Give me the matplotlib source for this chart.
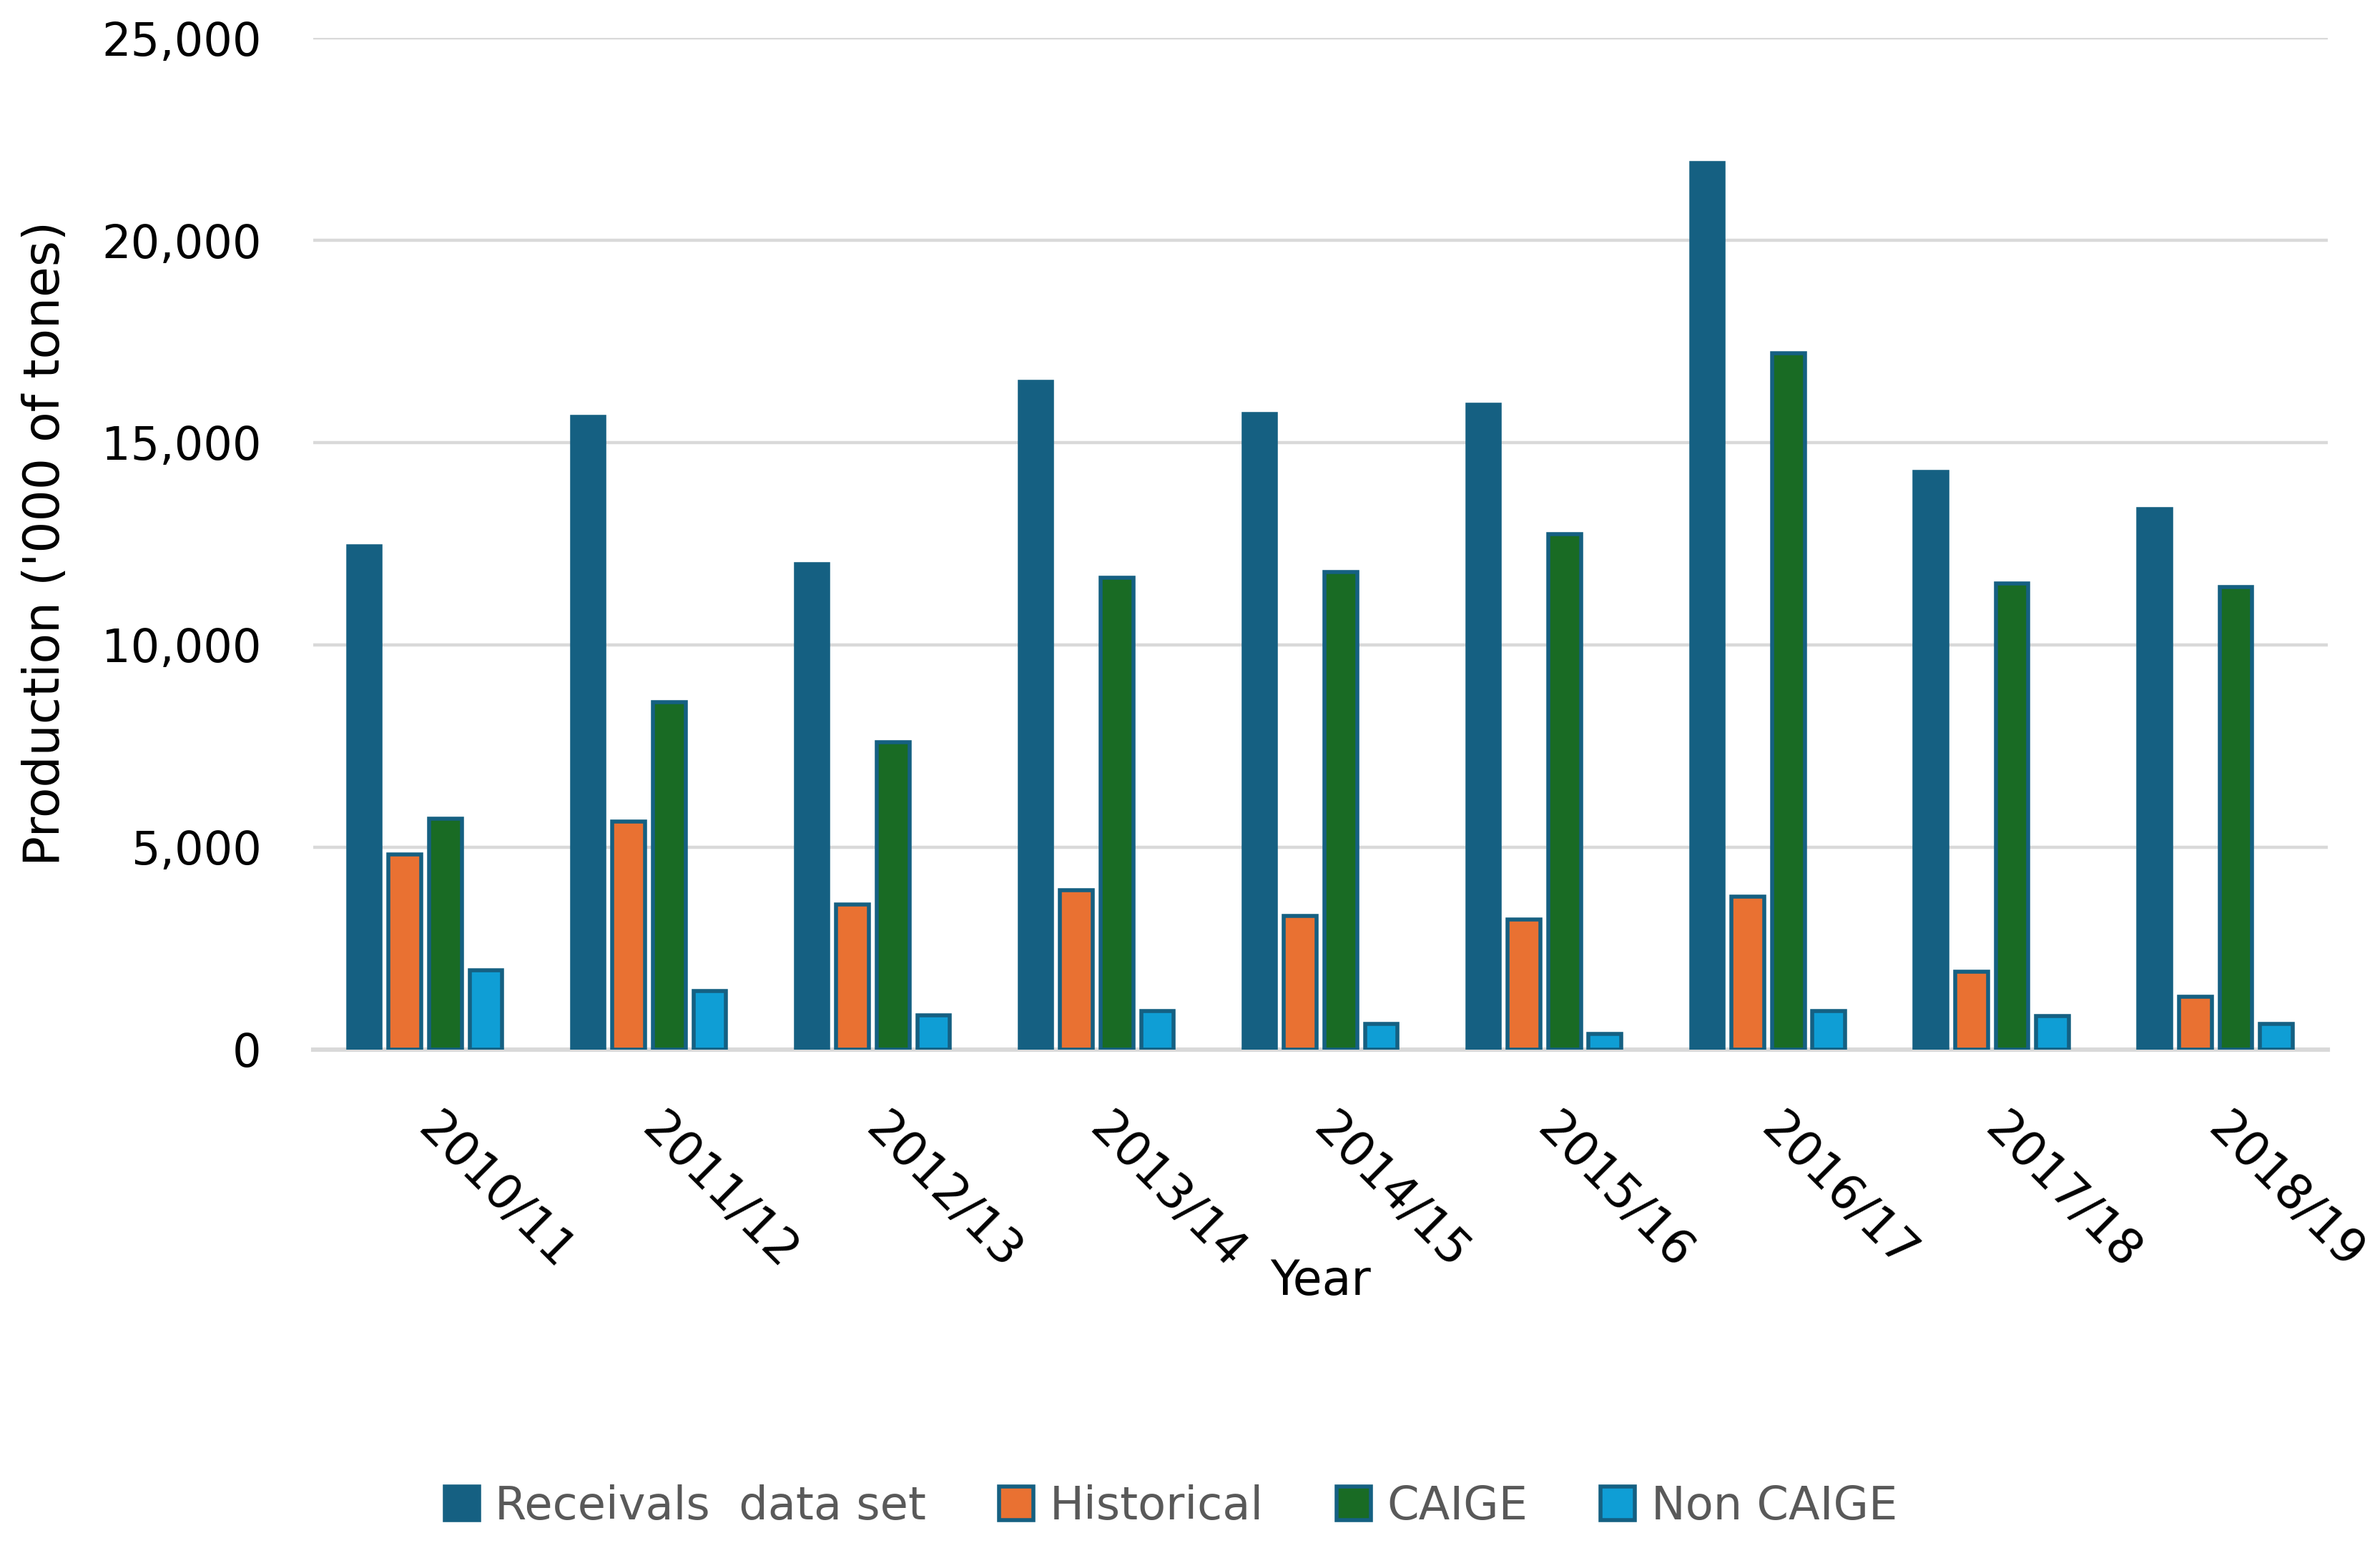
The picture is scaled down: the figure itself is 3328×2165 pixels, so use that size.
import numpy as np
import matplotlib
matplotlib.use("Agg")
import matplotlib.pyplot as plt

# values ('000 of tones)
years = ['2010/11', '2011/12', '2012/13', '2013/14', '2014/15',
         '2015/16', '2016/17', '2017/18', '2018/19']
receivals = [12430, 15640, 11990, 16500, 15710, 15930, 21910, 14270, 13360]
historical = [4830, 5640, 3580, 3935, 3295, 3210, 3785, 1925, 1300]
caige = [5710, 8580, 7600, 11655, 11805, 12735, 17210, 11520, 11435]
non_caige = [1960, 1455, 845, 945, 625, 390, 945, 830, 640]

series = [receivals, historical, caige, non_caige]
names = ['Receivals  data set', 'Historical', 'CAIGE', 'Non CAIGE']
colors = ['#156082', '#E97132', '#196B24', '#0F9ED5']
edge = '#156082'

plt.rcParams['font.family'] = ['DejaVu Sans']

fig = plt.figure(figsize=(16.64, 10.825), dpi=200)
ax = fig.add_axes([0.1316, 0.322, 0.8464, 0.6535])

x = np.arange(len(years))
step = 0.181
width = 0.146
for k, (vals, name, col) in enumerate(zip(series, names, colors)):
    ax.bar(x + (k - 1.5) * step, vals, width, color=col, edgecolor=edge,
           linewidth=2, label=name, zorder=3)

ax.set_xlim(-0.5, len(years) - 0.5)
ax.set_ylim(0, 25000)
ax.set_yticks(np.arange(0, 25001, 5000))
ax.yaxis.set_major_formatter(matplotlib.ticker.StrMethodFormatter('{x:,.0f}'))
ax.grid(axis='y', color='#d9d9d9', linewidth=1.6, zorder=0)
ax.set_axisbelow(True)

for s in ['top', 'right', 'left']:
    ax.spines[s].set_visible(False)
ax.spines['bottom'].set_color('#d9d9d9')
ax.spines['bottom'].set_linewidth(2.2)
ax.spines['bottom'].set_zorder(1)

ax.tick_params(axis='y', length=0, pad=26, labelsize=23)
ax.tick_params(axis='x', length=0, pad=36, labelsize=24)
ax.set_xticks(x)
ax.set_xticklabels(years, rotation=-45, ha='left', va='center',
                   rotation_mode='anchor')

ax.set_ylabel("Production ('000 of tones)", fontsize=25)
ax.yaxis.set_label_coords(-0.133, 0.5)
ax.yaxis.label.set_va('center')
ax.set_xlabel('Year', fontsize=24)
ax.xaxis.set_label_coords(0.5, -0.229)
ax.xaxis.label.set_va('center')

fig.legend(loc='center', bbox_to_anchor=(0.492, 0.027), ncol=4,
           frameon=False, fontsize=23, labelcolor='#595959',
           handlelength=0.75, handleheight=0.75, handletextpad=0.35,
           columnspacing=1.6)

fig.savefig('out.png', dpi=200)
